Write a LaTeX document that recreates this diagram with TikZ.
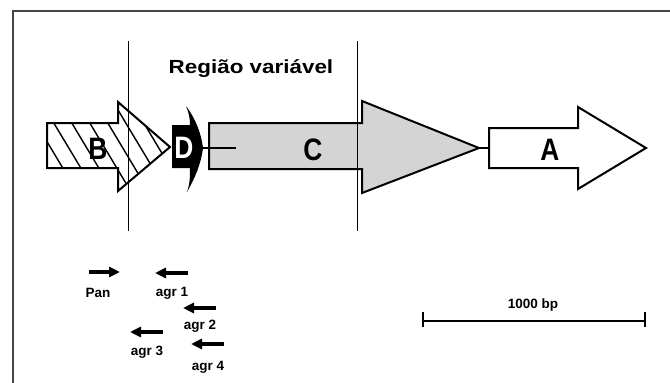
\documentclass[tikz,border=0pt]{standalone}
\usepackage{fontspec}
\setmainfont{Liberation Sans}
\usetikzlibrary{arrows.meta}
\definecolor{cfill}{RGB}{212,212,212}
\definecolor{framecol}{RGB}{70,70,70}
\tikzset{
  gene/.style={draw=black, line width=2pt, line join=miter},
  biglabel/.style={font=\fontsize{31}{31}\selectfont\bfseries, inner sep=0pt},
  smalllabel/.style={font=\fontsize{13.5}{13.5}\selectfont\bfseries, inner sep=0pt},
  primer/.style={line width=3.2pt, -{Triangle[length=11pt,width=10pt]}},
  regionline/.style={draw=black, line width=0.9pt},
  hatch/.style={draw=black, line width=1.4pt},
  thinlink/.style={draw=black, line width=1.6pt}
}
\begin{document}
\begin{tikzpicture}[x=1pt,y=-1pt]
\useasboundingbox (0,0) rectangle (670,383);
\fill[white] (0,0) rectangle (670,383);
% frame
\draw[framecol, line width=1.6pt] (670,11) -- (13,11) -- (13,383);

% ---- B arrow (hatched)
\def\Bpath{(47,123) -- (118,123) -- (118,102) -- (170,147) -- (118,191) -- (118,168) -- (47,168) -- cycle}
\fill[white] \Bpath;
\begin{scope}
  \clip \Bpath;
  \foreach \x in {1,19,...,200} {
    \draw[hatch] (\x,95) -- ++(60,100);
  }
\end{scope}
\draw[gene] \Bpath;
\node[biglabel] (Blab) at (98,149) {\scalebox{0.85}[1]{B}};

% ---- C arrow (grey)
\draw[gene, fill=cfill] (209,123) -- (362,123) -- (362,101) -- (479,148) -- (362,193) -- (362,169) -- (209,169) -- cycle;
\node[biglabel] (Clab) at (313,150) {\scalebox{0.85}[1]{C}};

% ---- D element (black)
\fill[black] (172,125) -- (190,125)
  .. controls (190,119) and (189,113) .. (186,106)
  .. controls (195,118) and (201,132) .. (203,148)
  .. controls (201,164) and (195,178) .. (187,192)
  .. controls (190,184) and (190,176) .. (190,168)
  -- (172,168) -- cycle;
\node[biglabel, text=white] (Dlab) at (184,148) {\scalebox{0.85}[1]{D}};
\coordinate (Dtip) at (203,148);
\coordinate (Cin) at (236,148);
\draw[thinlink] (Dtip) -- (Cin);

% ---- A arrow (white)
\draw[gene, fill=white] (489,128) -- (578,128) -- (578,107) -- (646,148) -- (578,189) -- (578,168) -- (489,168) -- cycle;
\node[biglabel] (Alab) at (550,150) {\scalebox{0.85}[1]{A}};
\coordinate (Ctip) at (479,148);
\coordinate (Aleft) at (489,148);
\draw[thinlink] (Ctip) -- (Aleft);

% ---- variable region boundaries
\coordinate (L1t) at (128,41); \coordinate (L1b) at (128,231);
\coordinate (L2t) at (357,41); \coordinate (L2b) at (357,231);
\draw[regionline] (L1t) -- (L1b);
\draw[regionline] (L2t) -- (L2b);
\node[font=\fontsize{19}{19}\selectfont\bfseries, inner sep=0pt] (title) at (251,69) {\scalebox{1.18}[1]{Região variável}};

% ---- primers
\draw[primer] (89,272) -- (120,272);
\node[smalllabel] (pan) at (98,293) {Pan};
\draw[primer] (188,273) -- (155,273);
\node[smalllabel] (agr1) at (172,293) {agr 1};
\draw[primer] (216,308) -- (183,308);
\node[smalllabel] (agr2) at (200,326) {agr 2};
\draw[primer] (163,332) -- (130,332);
\node[smalllabel] (agr3) at (147,352) {agr 3};
\draw[primer] (224,344) -- (191,344);
\node[smalllabel] (agr4) at (208,367) {agr 4};

% ---- scale bar
\coordinate (s1) at (423,321); \coordinate (s2) at (645,321);
\draw[line width=2pt] (s1) -- (s2);
\draw[line width=1.6pt] (423,312) -- (423,327);
\draw[line width=1.6pt] (645,312) -- (645,327);
\node[smalllabel] (scale) at (533,305) {1000 bp};
\end{tikzpicture}
\end{document}
